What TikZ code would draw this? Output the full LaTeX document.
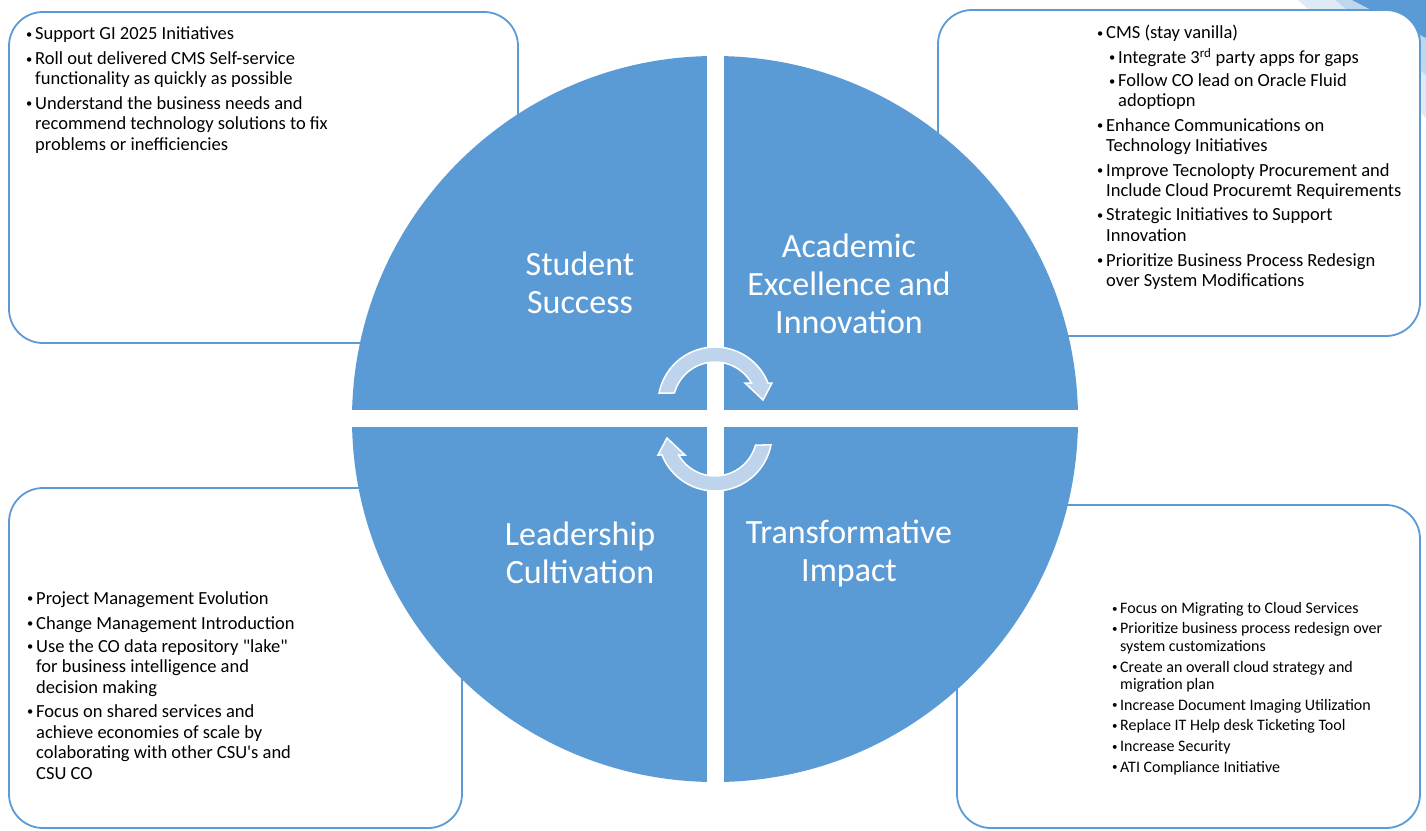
\documentclass[tikz,border=0pt]{standalone}
\usepackage{fontspec}
\newfontfamily\carl{Carlito}
\definecolor{qblue}{HTML}{5B9BD5}
\definecolor{arrowfill}{RGB}{190,212,236}
\definecolor{decoA}{HTML}{DEEBF7}
\definecolor{decoB}{HTML}{BDD7EE}
\tikzset{
  infobox/.style={draw=qblue, line width=1.8pt, fill=white, rounded corners=34pt},
  quadlabel/.style={text=white, font=\carl\fontsize{34}{38}\selectfont, align=center, inner sep=0pt},
  boxtext/.style={text=black, font=\carl\fontsize{18.5}{20.3}\selectfont, align=left, inner sep=0pt, anchor=north west},
  smalltext/.style={text=black, font=\carl\fontsize{16}{17.5}\selectfont, align=left, inner sep=0pt, anchor=north west},
  cyclearrow/.style={fill=arrowfill, draw=white, line width=1.5pt, line join=miter}
}
\newcommand{\bdot}{\raisebox{1.6pt}{\fontsize{12.5}{12.5}\selectfont\textbullet}}
\newcommand{\sdot}{\raisebox{1.3pt}{\fontsize{11}{11}\selectfont\textbullet}}
\newcommand{\bl}[1]{\makebox[9pt][l]{\bdot}#1}
\newcommand{\cl}[1]{\hspace*{9pt}#1}
\newcommand{\bll}[1]{\hspace*{12pt}\makebox[9pt][l]{\bdot}#1}
\newcommand{\cll}[1]{\hspace*{21pt}#1}
\newcommand{\sbl}[1]{\makebox[8pt][l]{\sdot}#1}
\newcommand{\scl}[1]{\hspace*{8pt}#1}
\begin{document}
\begin{tikzpicture}[x=1pt, y=-1pt]
\useasboundingbox (0,0) rectangle (1426,830);
% corner decoration
\fill[decoA] (1298,0) -- (1426,0) -- (1426,118) -- cycle;
\fill[decoB] (1335,0) -- (1426,0) -- (1426,75) -- cycle;
\fill[qblue] (1352,0) -- (1426,0) -- (1426,38) -- cycle;
% boxes
\draw[infobox] (9,12) rectangle (518,343);
\draw[infobox] (938,10) rectangle (1420,336);
\draw[infobox] (9,488) rectangle (462,828);
\draw[infobox] (957,505) rectangle (1420,828);
% circle
\fill[qblue] (715,419) circle[radius=363];
\fill[white] (707,50) rectangle (724,790);
\fill[white] (345,410) rectangle (1085,427);
% labels
\node[quadlabel] (ss) at (580,283) {Student\\Success};
\node[quadlabel] (ae) at (849,284) {Academic\\Excellence and\\Innovation};
\node[quadlabel] (lc) at (580,553) {Leadership\\Cultivation};
\node[quadlabel] (ti) at (849,553) {Transformative\\Impact};
% cycle arrows
\path[cyclearrow] plot[domain=168.9:21.6, samples=40] ({715+57*cos(\x)},{404-57*sin(\x)})
  -- (772,383) -- (763,400) -- (745,383)
  -- plot[domain=30:164.8, samples=40] ({715+42*cos(\x)},{404-42*sin(\x)}) -- cycle;
\begin{scope}[rotate around={180:(715,419)}]
\path[cyclearrow] plot[domain=168.9:21.6, samples=40] ({715+57*cos(\x)},{404-57*sin(\x)})
  -- (772,383) -- (763,400) -- (745,383)
  -- plot[domain=30:164.8, samples=40] ({715+42*cos(\x)},{404-42*sin(\x)}) -- cycle;
\end{scope}
% box texts
\node[boxtext] (tltext) at (26,27) {%
\bl{Support GI 2025 Initiatives}\\[4.4pt]
\bl{Roll out delivered CMS Self-service}\\
\cl{functionality as quickly as possible}\\[4.2pt]
\bl{Understand the business needs and}\\
\cl{recommend technology solutions to fix}\\
\cl{problems or inefficiencies}};
\node[boxtext] (trtext) at (1097,25) {%
\bl{CMS (stay vanilla)}\\[4.5pt]
\bll{Integrate 3\textsuperscript{rd} party apps for gaps}\\[2.8pt]
\bll{Follow CO lead on Oracle Fluid}\\
\cll{adoptiopn}\\[4pt]
\bl{Enhance Communications on}\\
\cl{Technology Initiatives}\\[4.5pt]
\bl{Improve Tecnolopty Procurement and}\\
\cl{Include Cloud Procuremt Requirements}\\[4pt]
\bl{Strategic Initiatives to Support}\\
\cl{Innovation}\\[4.5pt]
\bl{Prioritize Business Process Redesign}\\
\cl{over System Modifications}};
\node[boxtext, font=\carl\fontsize{18.5}{20.6}\selectfont] (bltext) at (27,591) {%
\bl{Project Management Evolution}\\[4.4pt]
\bl{Change Management Introduction}\\[2.4pt]
\bl{Use the CO data repository "lake"}\\
\cl{for business intelligence and}\\
\cl{decision making}\\[3.6pt]
\bl{Focus on shared services and}\\
\cl{achieve economies of scale by}\\
\cl{colaborating with other CSU's and}\\
\cl{CSU CO}};
\node[smalltext] (brtext) at (1112,602) {%
\sbl{Focus on Migrating to Cloud Services}\\[3pt]
\sbl{Prioritize business process redesign over}\\
\scl{system customizations}\\[3.2pt]
\sbl{Create an overall cloud strategy and}\\
\scl{migration plan}\\[3pt]
\sbl{Increase Document Imaging Utilization}\\[3.2pt]
\sbl{Replace IT Help desk Ticketing Tool}\\[3.2pt]
\sbl{Increase Security}\\[3.2pt]
\sbl{ATI Compliance Initiative}};
\end{tikzpicture}
\end{document}
